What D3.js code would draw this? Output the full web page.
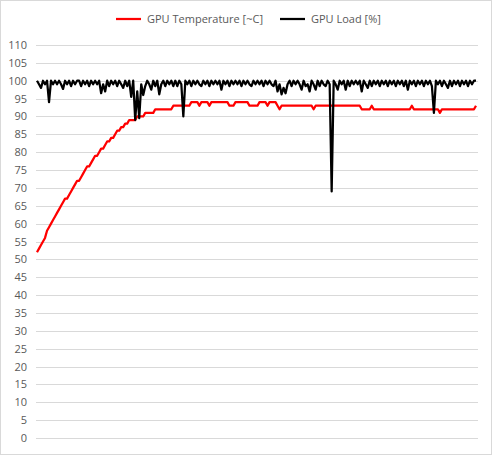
<!DOCTYPE html>
<html><head><meta charset="utf-8">
<script src="https://cdn.jsdelivr.net/npm/d3@7"></script>
<style>html,body{margin:0;padding:0;background:#fff;}svg{display:block;font-family:"Open Sans","Noto Sans",sans-serif;}</style>
</head><body>
<svg id="c" width="492" height="455"></svg>
<script>
const seriesNames = ["GPU Temperature [~C]", "GPU Load [%]"];
const seriesColors = ["#ff0000", "#000000"];
const yTicks = [0,5,10,15,20,25,30,35,40,45,50,55,60,65,70,75,80,85,90,95,100,105,110];
const gpuTemperature = [
52,53,54,55,56,58,59,60,61,62,
63,64,65,66,67,67,68,69,70,71,
72,72,73,74,75,76,76,77,78,79,
79,80,81,81,82,83,83,84,84,85,
86,86,87,87,88,88,89,89,89,89,
90,90,90,90,91,91,91,91,91,92,
92,92,92,92,92,92,92,92,93,93,
93,93,93,93,93,93,93,94,94,94,
94,93,94,94,94,94,93,94,94,94,
94,94,94,94,94,94,93,93,93,94,
94,94,94,94,94,94,93,93,93,93,
93,94,94,94,94,93,94,94,94,94,
93,92,93,93,93,93,93,93,93,93,
93,93,93,93,93,93,93,93,92,93,
93,93,93,93,93,93,93,93,93,93,
93,93,93,93,93,93,93,93,93,93,
93,93,92,92,92,92,92,93,92,92,
92,92,92,92,92,92,92,92,92,92,
92,92,92,92,92,92,92,93,92,92,
92,92,92,92,92,92,92,92,92,92,
92,91,92,92,92,92,92,92,92,92,
92,92,92,92,92,92,92,92,92,93
];
const gpuLoad = [
100,99,98,100,99,100,94,100,99,100,
99,100,99,97.7,100,99,100,98.5,100,99,
100,100,98.5,100,99,100,98.5,100,99,100,
99,100,96.5,99,97,100,98.5,100,99,100,
98.5,100,99,98,100,98.5,100,95.5,100,89,
97,89.5,99,96,98.5,100,99,97.5,100,98.5,
100,96.2,99,100,98.5,100,99,100,98.5,100,
98.5,100,99,90,100,99,100,98.5,100,99,
100,99,98.5,100,99,100,98.5,100,99,100,
99,100,97.5,100,99,100,98.5,100,99,100,
99,100,98.5,100,99,100,99,98.5,100,99,
100,99,100,98.5,100,99,100,99,98.5,100,
97,99,96.2,98,96.5,99,100,98.5,100,99,
100,99,97.5,100,98.5,99,97,100,99,97.5,
100,98.5,100,99,98.5,100,99,69,100,99,
97.5,100,99,100,97.5,100,98.5,100,99,100,
99,100,97,100,99,98,100,98.5,100,99,
100,98.5,100,99,100,98.5,100,99,100,98.5,
100,99,100,98.5,100,97.5,100,99,100,98.5,
100,99,100,98.5,100,99,100,98.5,91,100,
99,100,98.5,100,99,98,100,98.5,100,99,
100,98.5,100,99,100,98.5,100,99,100,100
];

const svg = d3.select("#c");
svg.append("rect").attr("x",0.5).attr("y",0.5).attr("width",491).attr("height",454)
  .attr("fill","#fff").attr("stroke","#d9d9d9");

const x = d3.scaleLinear().domain([0, gpuTemperature.length-1]).range([37, 476]);
const y = d3.scaleLinear().domain([0,110]).range([438, 45]);

svg.append("g").selectAll("line").data(yTicks).join("line")
  .attr("x1",36).attr("x2",478)
  .attr("y1",d=>Math.round(y(d))+0.5).attr("y2",d=>Math.round(y(d))+0.5)
  .attr("stroke","#d9d9d9").attr("stroke-width",1);

const yAxis = d3.axisLeft(y).tickValues(yTicks).tickSize(0).tickPadding(0);
const ya = svg.append("g").attr("transform","translate(27,0)").call(yAxis);
ya.select(".domain").remove();
ya.selectAll("text").attr("fill","#595959").style("font-size","11px")
  .style("font-family","'Open Sans','Noto Sans',sans-serif");

const line = d3.line().x((d,i)=>x(i)).y(d=>y(d)).curve(d3.curveLinear);
const data = [gpuTemperature, gpuLoad];
svg.append("g").selectAll("path").data(data).join("path")
  .attr("d", d=>line(d)).attr("fill","none")
  .attr("stroke",(d,i)=>seriesColors[i]).attr("stroke-width",2.25)
  .attr("stroke-linejoin","round");

const legX = [116, 280];
const leg = svg.append("g");
seriesNames.forEach((n,i)=>{
  leg.append("line").attr("x1",legX[i]).attr("x2",legX[i]+25).attr("y1",19).attr("y2",19)
    .attr("stroke",seriesColors[i]).attr("stroke-width",2.25);
  leg.append("text").attr("x",legX[i]+31).attr("y",19).attr("dy","0.35em")
    .attr("fill","#595959").style("font-size","11px").text(n);
});
</script>
</body></html>
